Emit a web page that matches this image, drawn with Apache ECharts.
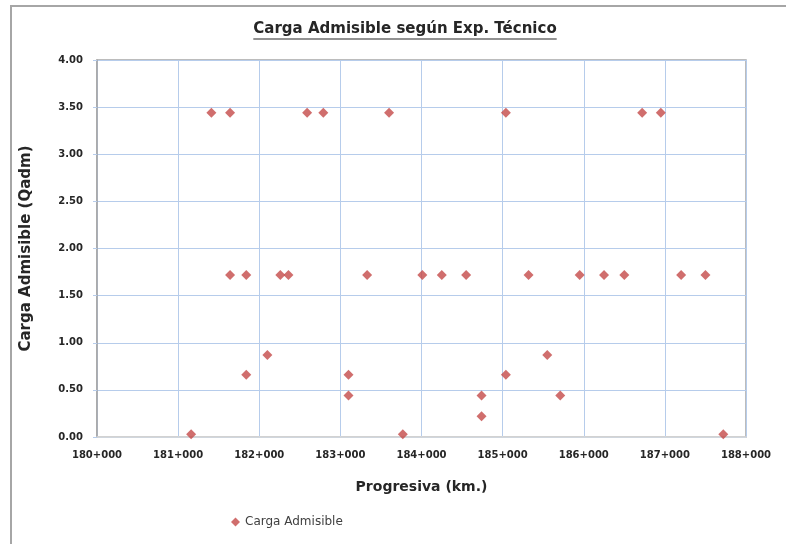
<!DOCTYPE html>
<html>
<head>
<meta charset="utf-8">
<script src="https://cdn.jsdelivr.net/npm/echarts@6/dist/echarts.min.js"></script>
<style>html,body{margin:0;padding:0;background:#fff}#c{width:786px;height:544px}</style>
</head>
<body>
<div id="c"></div>
<script>
const chartTitle = 'Carga Admisible según Exp. Técnico';
const seriesName = 'Carga Admisible';
const xAxisName = 'Progresiva (km.)';
const yAxisName = 'Carga Admisible (Qadm)';
const progresivaKm = [181.41, 181.64, 182.59, 182.79, 183.60, 185.04, 186.72, 186.95,
  181.64, 181.84, 182.26, 182.36, 183.33, 184.01, 184.25, 184.55, 185.32, 185.95, 186.25, 186.50, 187.20, 187.50,
  182.10, 185.55,
  181.84, 183.10, 185.04,
  183.10, 184.74, 185.71,
  184.74,
  181.16, 183.77, 187.72];
const cargaAdm = [3.44, 3.44, 3.44, 3.44, 3.44, 3.44, 3.44, 3.44,
  1.72, 1.72, 1.72, 1.72, 1.72, 1.72, 1.72, 1.72, 1.72, 1.72, 1.72, 1.72, 1.72, 1.72,
  0.87, 0.87,
  0.66, 0.66, 0.66,
  0.44, 0.44, 0.44,
  0.22,
  0.03, 0.03, 0.03];

const font = '"DejaVu Sans", sans-serif';
const titleFont = 'bold 15px "DejaVu Sans", sans-serif';
const cv = document.createElement('canvas').getContext('2d');
cv.font = titleFont;
const tw = cv.measureText(chartTitle).width;
const tcx = 405, tTop = 22, tSize = 15;

const chart = echarts.init(document.getElementById('c'), null, {renderer: 'canvas'});
const pts = progresivaKm.map((x, i) => [x, cargaAdm[i]]);
chart.setOption({
  animation: false,
  backgroundColor: '#fff',
  textStyle: {fontFamily: font},
  grid: {left: 97, right: 40, top: 60, bottom: 107, show: true, borderColor: '#a6a6a6', borderWidth: 1.5},
  xAxis: {
    type: 'value', min: 180, max: 188, interval: 1,
    name: xAxisName, nameLocation: 'middle', nameGap: 43,
    nameTextStyle: {fontSize: 14, fontWeight: 'bold', color: '#262626', fontFamily: font},
    axisLine: {show: true, lineStyle: {color: '#d9d9d9', width: 1.5}},
    axisTick: {show: false},
    axisLabel: {formatter: v => Math.round(v) + '+000', fontSize: 10, color: '#262626', fontWeight: 'bold', margin: 13, fontFamily: font},
    splitLine: {show: true, lineStyle: {color: '#b6cceb', width: 1}}
  },
  yAxis: {
    type: 'value', min: 0, max: 4, interval: 0.5,
    name: yAxisName, nameLocation: 'middle', nameGap: 63, nameRotate: 90,
    nameTextStyle: {fontSize: 15, fontWeight: 'bold', color: '#262626', fontFamily: font},
    axisLine: {show: true, lineStyle: {color: '#a6a6a6', width: 1.5}},
    axisTick: {show: true, length: 4, lineStyle: {color: '#b6cceb'}},
    axisLabel: {formatter: v => v.toFixed(2), fontSize: 10, color: '#262626', fontWeight: 'bold', margin: 14, fontFamily: font},
    splitLine: {show: true, lineStyle: {color: '#b6cceb', width: 1}}
  },
  legend: {
    data: [{name: seriesName, icon: 'diamond'}], left: 226, top: 511, itemWidth: 9, itemHeight: 9, itemGap: 4,
    textStyle: {fontSize: 12, color: '#404040', fontFamily: font}
  },
  graphic: [
    {type: 'rect', shape: {x: 11, y: 6, width: 800, height: 560}, style: {fill: null, stroke: '#a6a6a6', lineWidth: 2}, silent: true},
    {type: 'text', x: tcx, y: tTop, style: {text: chartTitle, font: titleFont, fill: '#262626', align: 'center', verticalAlign: 'top'}},
    {type: 'line', shape: {x1: tcx - tw / 2, y1: tTop + tSize + 2, x2: tcx + tw / 2, y2: tTop + tSize + 2}, style: {stroke: '#262626', lineWidth: 1.2}}
  ],
  series: [{
    name: seriesName, type: 'scatter', symbol: 'diamond', symbolSize: 10,
    itemStyle: {color: '#c44a48'},
    data: pts
  }]
});
</script>
</body>
</html>
